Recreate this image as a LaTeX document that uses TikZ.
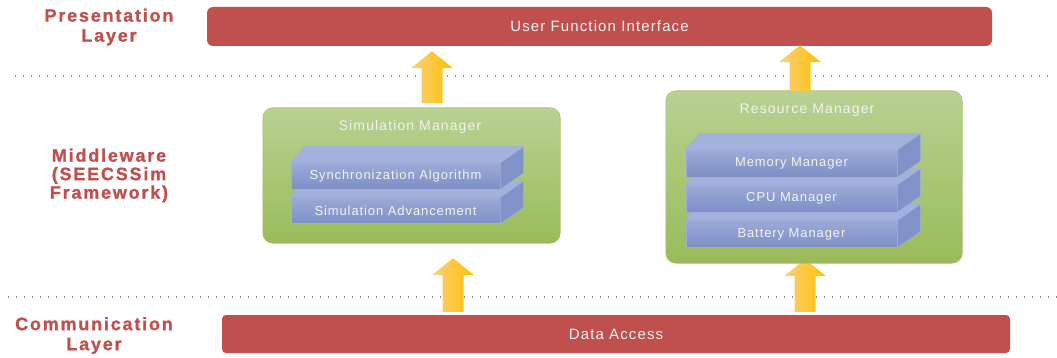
\documentclass[tikz,border=0pt]{standalone}
\usepackage{fontspec}
\usetikzlibrary{calc}
\setmainfont{Liberation Sans}
\newfontfamily\layerfont{Liberation Sans}[LetterSpace=10, BoldFeatures={FakeBold=1.2}]
\newfontfamily\boxfont{Liberation Sans}[LetterSpace=7.5]
\newfontfamily\titlefont{Liberation Sans}[LetterSpace=8]
\newfontfamily\slabfont{Liberation Sans}[LetterSpace=7]

\definecolor{layerred}{HTML}{C0504D}
\definecolor{barred}{HTML}{C0504D}
\definecolor{greentop}{HTML}{B9D193}
\definecolor{greenbot}{HTML}{9BBB59}
\definecolor{slabfront}{HTML}{8A9BCF}
\definecolor{slabfrontdark}{HTML}{7D8FC6}
\definecolor{slabtop}{HTML}{A3B1DC}
\definecolor{slabside}{HTML}{8192C8}
\definecolor{slabedge}{HTML}{9FAEDF}
\definecolor{arrowlight}{HTML}{FAD07E}
\definecolor{arrowdark}{HTML}{FFC000}
\definecolor{dotgray}{HTML}{8C8C8C}

\tikzset{
  layerlabel/.style={align=center, text=layerred, font=\layerfont\bfseries\fontsize{18}{20}\selectfont},
  redbar/.style={fill=barred, rounded corners=6pt, text=white!95!black, font=\boxfont\fontsize{15}{17}\selectfont},
  greenbox/.style={top color=greentop, bottom color=greenbot, rounded corners=10pt, draw=greenbot!90!white, line width=0.6pt},
  boxtitle/.style={text=white!95!black, font=\titlefont\fontsize{14}{16}\selectfont},
  slab/.style={top color=slabfront!85!white, bottom color=slabfrontdark, draw=slabedge, line width=0.6pt,
    text=white!95!black, font=\slabfont\fontsize{13}{15}\selectfont, inner sep=0pt},
  slabtopface/.style={fill=slabtop, draw=slabedge, line width=0.6pt},
  slabsideface/.style={fill=slabside, draw=slabedge, line width=0.6pt},
  arrowfill/.style={left color=arrowlight, right color=arrowdark},
  layerline/.style={draw=dotgray, line width=1.4pt, dash pattern=on 1.4pt off 6.6pt}
}

% 3D slab: front face node plus a top and a right face
\newcommand\slabfaces[1]{%
  \path[slabsideface] (#1.north east) -- ++(23,-16) -- ([shift={(23,-16)}]#1.south east) -- (#1.south east) -- cycle;
  \path[slabtopface] (#1.north west) -- ++(14,-16) -- ([shift={(23,-16)}]#1.north east) -- (#1.north east) -- cycle;
}

% block arrow pointing up, from bottom coordinate #1 to tip coordinate #2
\newcommand\blockup[2]{%
  \path[arrowfill] let \p1=(#1), \p2=(#2) in
    ({\x1-10.5pt},\y1) -- ({\x1-10.5pt},{\y2-17pt}) -- ({\x1-21pt},{\y2-17pt}) --
    (\x1,\y2) -- ({\x1+21pt},{\y2-17pt}) -- ({\x1+10.5pt},{\y2-17pt}) -- ({\x1+10.5pt},\y1) -- cycle;
}

\begin{document}
\begin{tikzpicture}[x=1pt, y=-1pt]
\useasboundingbox (0,0) rectangle (1057,358);

% layer separators
\draw[layerline] (15,76) -- (1052,76);
\draw[layerline] (8,297) -- (1057,297);

% layer names
\node[layerlabel] (lpres) at (109,27) {Presentation\\Layer};
\node[layerlabel, font=\layerfont\bfseries\fontsize{18}{18.5}\selectfont] (lmid) at (109,175.5) {Middleware\\(SEECSSim\\Framework)};
\node[layerlabel] (lcomm) at (94,335.5) {Communication\\Layer};

% presentation and communication bars
\node[redbar, minimum width=785pt, minimum height=39pt] (ui) at (599.5,26.5) {User Function Interface};
\node[redbar, minimum width=788pt, minimum height=38pt, rounded corners=4pt] (data) at (616,334) {Data Access};

% arrow axes
\coordinate (x1) at (432,0);
\coordinate (x2) at (800,0);
\coordinate (x3) at (453,0);
\coordinate (x4) at (805,0);

% middleware box outlines (placed first so arrows can refer to them)
\node[minimum width=297pt, minimum height=135pt] (sim) at (411.5,175.5) {};
\node[minimum width=296pt, minimum height=172pt] (res) at (814,177) {};

% arrow lying partly behind the resource manager
\blockup{[yshift=3pt]data.north -| x4}{[yshift=4pt]res.south -| x4}

% middleware boxes
\path[greenbox] (sim.south west) rectangle (sim.north east);
\path[greenbox] (res.south west) rectangle (res.north east);

\node[boxtitle] (simtitle) at (410,127) {Simulation Manager};
\node[boxtitle] (restitle) at (807,110) {Resource Manager};

% simulation manager slabs (lower first)
\node[slab, minimum width=209pt, minimum height=26pt] (adv) at (395.5,210.5) {Simulation Advancement};
\slabfaces{adv}
\node[slab, minimum width=209pt, minimum height=26pt] (sync) at (395.5,176) {Synchronization Algorithm};
\slabfaces{sync}

% resource manager slabs (lower first)
\node[slab, minimum width=211pt, minimum height=27pt] (bat) at (791.5,234) {Battery Manager};
\slabfaces{bat}
\node[slab, minimum width=211pt, minimum height=27pt] (cpu) at (791.5,198.5) {CPU Manager};
\slabfaces{cpu}
\node[slab, minimum width=211pt, minimum height=27pt] (mem) at (791.5,163.5) {Memory Manager};
\slabfaces{mem}

% remaining arrows
\blockup{[yshift=5pt]sim.north -| x1}{[yshift=-5pt]ui.south -| x1}
\blockup{res.north -| x2}{[yshift=1pt]ui.south -| x2}
\blockup{[yshift=3pt]data.north -| x3}{[yshift=-15pt]sim.south -| x3}
\end{tikzpicture}
\end{document}
